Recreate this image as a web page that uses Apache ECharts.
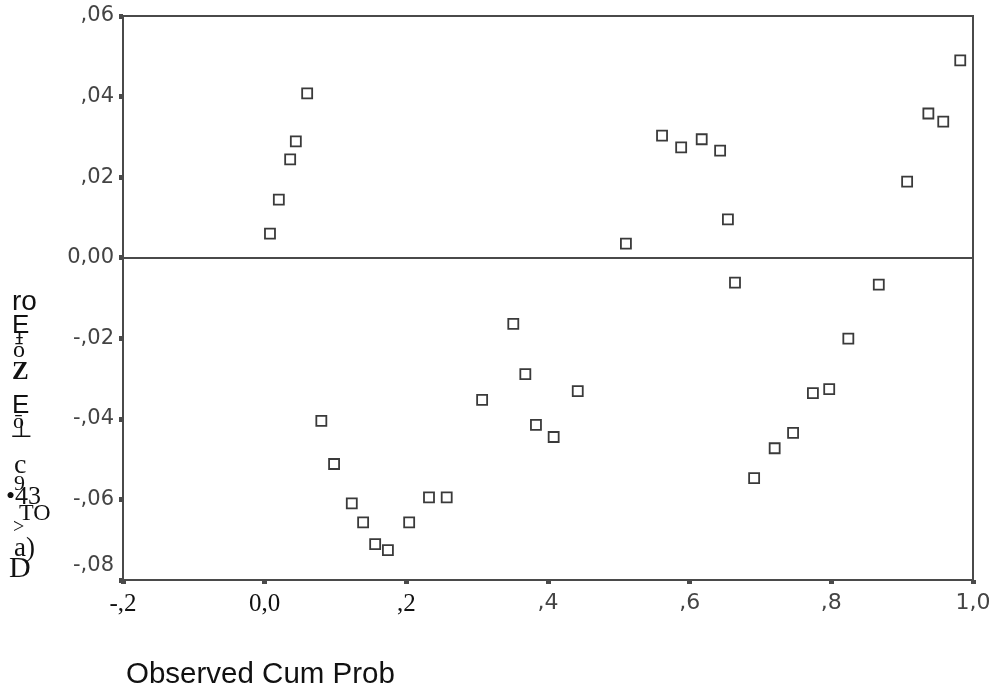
<!DOCTYPE html>
<html>
<head>
<meta charset="utf-8">
<script src="https://cdn.jsdelivr.net/npm/echarts@6/dist/echarts.min.js"></script>
<style>
html,body{margin:0;padding:0;background:#fff;}
#chart{width:995px;height:695px;}
</style>
</head>
<body>
<div id="chart"></div>
<script>
// Observed cumulative probability (x) and deviation from normal (y)
var observedCumProb = [0.0075,0.020,0.036,0.044,0.060,0.080,0.098,0.123,0.139,0.156,0.174,0.204,0.232,0.257,0.307,0.351,0.368,0.383,0.408,0.442,0.510,0.561,0.588,0.617,0.643,0.654,0.664,0.691,0.720,0.746,0.774,0.797,0.824,0.867,0.907,0.937,0.958,0.982];
var deviation = [0.0060,0.0144,0.0244,0.0289,0.0408,-0.0405,-0.0512,-0.0610,-0.0657,-0.0711,-0.0726,-0.0657,-0.0595,-0.0595,-0.0353,-0.0164,-0.0289,-0.0415,-0.0445,-0.0331,0.0035,0.0303,0.0274,0.0294,0.0266,0.0095,-0.0062,-0.0547,-0.0473,-0.0435,-0.0336,-0.0326,-0.0201,-0.0067,0.0189,0.0358,0.0338,0.0490];
var xTickLabels = ['-,2','0,0',',2',',4',',6',',8','1,0'];
var yTickLabels = ['-,08','-,06','-,04','-,02','0,00',',02',',04',',06'];
var xAxisTitle = 'Observed Cum Prob';
var yTitleGlyphs = ['ro','E','Ŧ','ō','Z','E','ō','⊥','c','9','•43','TO','>','a)','D'];

var points = observedCumProb.map(function(x,i){return [x, deviation[i]];});

var chart = echarts.init(document.getElementById('chart'), null, {renderer:'canvas'});

// layout of garbled vertical title glyphs (centre y, left x, font)
var glyphStyle = [
  {y:302,x:12,f:'28px "Liberation Sans"'},
  {y:326,x:12,f:'26px "Liberation Sans"'},
  {y:339,x:14,f:'18px "Liberation Sans"'},
  {y:351,x:13,f:'24px "Liberation Serif"'},
  {y:373,x:12,f:'bold 25px "Liberation Serif"'},
  {y:406,x:12,f:'26px "Liberation Sans"'},
  {y:422,x:13,f:'22px "Liberation Serif"'},
  {y:430,x:10,f:'26px "Liberation Serif"'},
  {y:466,x:14,f:'28px "Liberation Serif"'},
  {y:484,x:14,f:'22px "Liberation Serif"'},
  {y:497,x:6,f:'26px "Liberation Serif"'},
  {y:514,x:19,f:'24px "Liberation Serif"'},
  {y:528,x:13,f:'20px "Liberation Serif"'},
  {y:549,x:14,f:'27px "Liberation Serif"'},
  {y:569,x:9,f:'30px "Liberation Serif"'}
];
var graphics = yTitleGlyphs.map(function(t,i){
  var s = glyphStyle[i];
  return {type:'text', x:s.x, y:s.y, style:{text:t, font:s.f, fill:'#111', align:'left', verticalAlign:'middle'}};
});
graphics.push({type:'text', x:126, y:675, style:{text:xAxisTitle, font:'29.5px "Liberation Sans"', fill:'#111', align:'left', verticalAlign:'middle'}});

chart.setOption({
  animation:false,
  backgroundColor:'#fff',
  grid:{left:123, right:22, top:16, bottom:115, show:true, borderColor:'#4a4a4a', borderWidth:2, backgroundColor:'transparent'},
  xAxis:{
    type:'value', min:-0.2, max:1.0, interval:0.2,
    axisLine:{show:true, onZero:false, lineStyle:{color:'#4a4a4a', width:2}},
    axisTick:{show:true, length:4, inside:false, lineStyle:{color:'#4a4a4a', width:5}},
    splitLine:{show:false},
    axisLabel:{
      margin:12,
      formatter:function(v){
        var i = Math.round((v+0.2)/0.2);
        var t = xTickLabels[i];
        return i<=2 ? '{s|'+t+'}' : '{a|'+t+'}';
      },
      rich:{
        s:{fontFamily:'Liberation Serif', fontSize:25, color:'#111'},
        a:{fontFamily:'DejaVu Sans', fontSize:22, color:'#444'}
      }
    }
  },
  yAxis:{
    type:'value', min:-0.08, max:0.06, interval:0.02,
    axisLine:{show:true, onZero:false, lineStyle:{color:'#4a4a4a', width:2}},
    axisTick:{show:true, length:4, lineStyle:{color:'#4a4a4a', width:5}},
    splitLine:{show:false},
    axisLabel:{
      margin:9,
      formatter:function(v){
        var i = Math.round((v+0.08)/0.02);
        var t = yTickLabels[i];
        return i===0 ? '{lift|'+t+'}' : '{a|'+t+'}';
      },
      rich:{
        a:{fontFamily:'DejaVu Sans', fontSize:21, color:'#444'},
        lift:{fontFamily:'DejaVu Sans', fontSize:21, color:'#444', padding:[0,0,28,0]}
      }
    }
  },
  series:[{
    type:'scatter',
    data:points,
    symbol:'rect',
    symbolSize:10,
    itemStyle:{color:'rgba(255,255,255,0)', borderColor:'#3a3a3a', borderWidth:1.8, opacity:1},
    markLine:{
      silent:true, symbol:'none',
      label:{show:false},
      lineStyle:{color:'#4a4a4a', width:2, type:'solid'},
      data:[{yAxis:0}]
    }
  }],
  graphic:graphics
});
</script>
</body>
</html>
